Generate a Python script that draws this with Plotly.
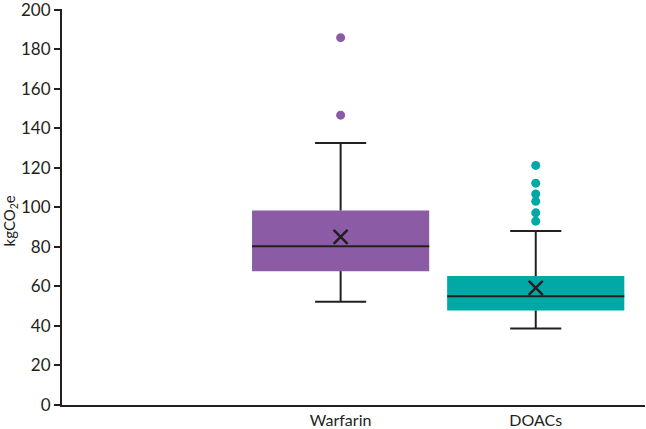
import plotly.graph_objects as go

# ---- data ----
categories = ["Warfarin", "DOACs"]
q1 = [67.7, 47.8]
median = [80.3, 55.0]
q3 = [98.4, 65.2]
lower_whisker = [52.2, 38.7]
upper_whisker = [132.5, 88.0]
means = [85.0, 59.3]
outliers = [[146.6, 185.8], [93.0, 97.2, 103.0, 106.7, 112.2, 121.2]]
y_title = "kgCO<sub>2</sub>e"

colors = ["#8B5BA6", "#00A9A5"]
dark = "#231F20"
font_family = "Lato, 'Open Sans', sans-serif"

xpos = [i + 1 for i in range(len(categories))]
box_w = 0.908
cap_half = 0.131

fig = go.Figure()

# boxes (IQR) as bars
fig.add_trace(go.Bar(
    x=xpos, base=q1, y=[b - a for a, b in zip(q1, q3)],
    width=box_w, marker=dict(color=colors, line=dict(width=0)),
    showlegend=False, hoverinfo="skip"))

for i, x in enumerate(xpos):
    # whiskers + caps
    wx = [x, x, None, x - cap_half, x + cap_half, None,
          x, x, None, x - cap_half, x + cap_half]
    wy = [q3[i], upper_whisker[i], None, upper_whisker[i], upper_whisker[i], None,
          q1[i], lower_whisker[i], None, lower_whisker[i], lower_whisker[i]]
    fig.add_trace(go.Scatter(x=wx, y=wy, mode="lines",
                             line=dict(color=dark, width=2),
                             showlegend=False, hoverinfo="skip"))
    # median
    fig.add_trace(go.Scatter(x=[x - box_w / 2, x + box_w / 2], y=[median[i], median[i]],
                             mode="lines", line=dict(color=dark, width=2),
                             showlegend=False, hoverinfo="skip"))
    # mean marker
    fig.add_trace(go.Scatter(x=[x], y=[means[i]], mode="markers",
                             marker=dict(symbol="x-thin-open", size=14, color=dark,
                                         line=dict(color=dark, width=2.5)),
                             showlegend=False, hoverinfo="skip"))
    # outliers
    fig.add_trace(go.Scatter(x=[x] * len(outliers[i]), y=outliers[i], mode="markers",
                             marker=dict(symbol="circle", size=9, color=colors[i]),
                             showlegend=False, hoverinfo="skip"))

fig.update_layout(
    width=646, height=429,
    margin=dict(l=62, r=1, t=9, b=24),
    plot_bgcolor="white", paper_bgcolor="white",
    font=dict(family=font_family, color=dark),
    xaxis=dict(range=[-0.428, 2.56], tickvals=xpos, ticktext=categories,
               showgrid=False, zeroline=False, showline=True,
               linecolor=dark, linewidth=2, ticks="", automargin=False,
               ticklabelstandoff=0,
               tickfont=dict(size=16, color=dark)),
    yaxis=dict(range=[0, 200.3], tickvals=list(range(0, 201, 20)),
               showgrid=False, zeroline=False,
               showline=True, linecolor=dark, linewidth=2,
               ticks="outside", ticklen=6, tickwidth=2, tickcolor=dark,
               ticklabeloverflow="allow", automargin=False,
               tickfont=dict(size=17, color=dark)),
    annotations=[dict(text=y_title, textangle=-90, xref="paper", yref="paper",
                      x=-0.09, y=0.465, xanchor="center", yanchor="middle",
                      showarrow=False, font=dict(size=15, color=dark))],
)

fig.write_html("out.html", config={"displayModeBar": False},
               post_script="document.body.style.margin='0';document.body.style.padding='0';")
